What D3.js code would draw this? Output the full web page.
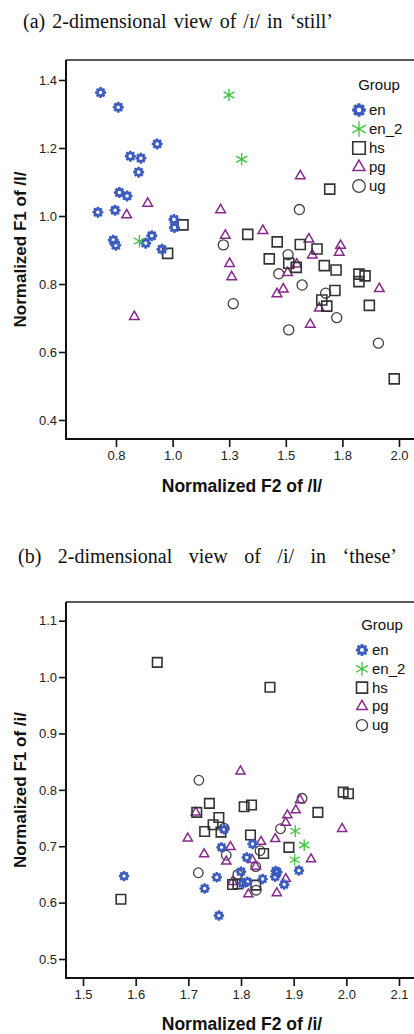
<!DOCTYPE html>
<html>
<head>
<meta charset="utf-8">
<script src="https://cdn.jsdelivr.net/npm/d3@7/dist/d3.min.js"></script>
<style>
body { margin: 0; background: #fff; }
svg { display: block; }
</style>
</head>
<body>
<div id="chart"></div>
<script>
// groups shown in both legends
var groups = ["en", "en_2", "hs", "pg", "ug"];

// (a) /ɪ/ in 'still' : [normalized F2, normalized F1]
var stillEn = [[0.682,1.363],[0.760,1.320],[0.932,1.212],[0.813,1.176],[0.860,1.170],[0.850,1.129],[0.765,1.069],[0.799,1.059],[0.670,1.011],[0.746,1.017],[1.006,0.990],[1.008,0.966],[0.738,0.929],[0.749,0.914],[0.908,0.942],[0.881,0.920],[0.953,0.902]];
var stillEn2 = [[0.853,0.926],[1.249,1.356],[1.305,1.167]];
var stillHs = [[1.046,0.974],[0.978,0.890],[1.694,1.079],[1.332,0.946],[1.462,0.924],[1.564,0.916],[1.638,0.903],[1.427,0.874],[1.513,0.861],[1.546,0.849],[1.670,0.854],[1.722,0.841],[1.823,0.829],[1.850,0.824],[1.823,0.807],[1.717,0.781],[1.659,0.753],[1.681,0.735],[1.869,0.737],[1.979,0.521]];
var stillPg = [[0.890,1.037],[0.797,1.003],[0.831,0.704],[1.564,1.118],[1.212,1.018],[1.233,0.943],[1.399,0.957],[1.602,0.932],[1.742,0.913],[1.736,0.893],[1.617,0.885],[1.548,0.858],[1.252,0.860],[1.261,0.821],[1.508,0.833],[1.489,0.785],[1.461,0.771],[1.913,0.786],[1.648,0.729],[1.608,0.681]];
var stillUg = [[1.560,1.019],[1.224,0.915],[1.510,0.886],[1.469,0.830],[1.572,0.797],[1.676,0.773],[1.268,0.742],[1.725,0.701],[1.513,0.665],[1.909,0.626]];

// (b) /i/ in 'these'
var theseEn = [[1.578,0.647],[1.731,0.625],[1.768,0.730],[1.822,0.704],[1.763,0.698],[1.811,0.680],[1.910,0.657],[1.800,0.655],[1.866,0.656],[1.869,0.654],[1.754,0.645],[1.841,0.642],[1.865,0.646],[1.812,0.637],[1.803,0.634],[1.882,0.632],[1.758,0.577]];
var theseEn2 = [[1.903,0.727],[1.920,0.702],[1.902,0.676]];
var theseHs = [[1.641,1.026],[1.855,0.982],[1.572,0.606],[1.994,0.796],[2.004,0.793],[1.946,0.760],[1.740,0.776],[1.806,0.770],[1.820,0.773],[1.758,0.751],[1.716,0.760],[1.747,0.738],[1.731,0.726],[1.762,0.725],[1.818,0.720],[1.891,0.698],[1.843,0.687],[1.784,0.632],[1.794,0.633],[1.828,0.631]];
var thesePg = [[1.799,0.833],[1.714,0.760],[1.699,0.714],[1.730,0.686],[1.912,0.782],[1.904,0.764],[1.888,0.755],[1.885,0.742],[1.992,0.731],[1.865,0.713],[1.838,0.708],[1.780,0.699],[1.821,0.676],[1.772,0.673],[1.933,0.677],[1.828,0.664],[1.885,0.642],[1.784,0.637],[1.814,0.615],[1.868,0.617]];
var theseUg = [[1.720,0.817],[1.916,0.785],[1.875,0.731],[1.768,0.732],[1.836,0.692],[1.772,0.684],[1.828,0.664],[1.794,0.650],[1.719,0.653],[1.829,0.622]];

// ticks
var xTicksA = [0.75, 1.0, 1.25, 1.5, 1.75, 2.0];
var xTickLabelsA = ["0.8", "1.0", "1.3", "1.5", "1.8", "2.0"];
var yTicksA = [0.4, 0.6, 0.8, 1.0, 1.2, 1.4];
var xTicksB = [1.5, 1.6, 1.7, 1.8, 1.9, 2.0, 2.1];
var yTicksB = [0.5, 0.6, 0.7, 0.8, 0.9, 1.0, 1.1];

var width = 414, height = 1034;
var svg = d3.select("#chart").append("svg")
	.attr("width", width)
	.attr("height", height);

var colors = {en: "#3b5bbf", en_2: "#3cc43c", hs: "#333333", pg: "#86298a", ug: "#404040"};

// en marker: blue gear with hole
function gearPath(r) {
	var rIn = r * 0.72, p = [];
	for (var k = 0; k < 8; k++) {
		var t = k * Math.PI / 4;
		p.push([rIn * Math.cos(t - Math.PI / 8), rIn * Math.sin(t - Math.PI / 8)]);
		p.push([r * Math.cos(t - 0.2), r * Math.sin(t - 0.2)]);
		p.push([r * Math.cos(t + 0.2), r * Math.sin(t + 0.2)]);
	}
	var h = r * 0.32;
	return "M" + p.join("L") + "Z" +
		"M" + h + ",0A" + h + "," + h + " 0 1,0 " + (-h) + ",0A" + h + "," + h + " 0 1,0 " + h + ",0Z";
}

function drawMark(sel, g, s) {
	// s = scale factor
	if (g == "en") {
		sel.append("path").attr("d", gearPath(5.6 * s))
			.attr("fill", colors.en).attr("fill-rule", "evenodd");
	} else if (g == "en_2") {
		sel.append("path").attr("d", d3.symbol(d3.symbolAsterisk, 110 * s * s))
			.attr("fill", "none").attr("stroke", colors.en_2).attr("stroke-width", 1.3);
	} else if (g == "hs") {
		sel.append("path").attr("d", d3.symbol(d3.symbolSquare, 100 * s * s))
			.attr("fill", "none").attr("stroke", colors.hs).attr("stroke-width", 1.6);
	} else if (g == "pg") {
		sel.append("path").attr("d", d3.symbol(d3.symbolTriangle, 40 * s * s))
			.attr("fill", "none").attr("stroke", colors.pg).attr("stroke-width", 1.5);
	} else {
		sel.append("path").attr("d", d3.symbol(d3.symbolCircle, 80 * s * s))
			.attr("fill", "none").attr("stroke", colors.ug).attr("stroke-width", 1.3);
	}
}

function spreadTitle(t, x0, x1) {
	var w = t.node().getComputedTextLength();
	var n = t.text().split(" ").length - 1;
	t.attr("x", x0).style("word-spacing", ((x1 - x0 - w) / n) + "px");
}

function drawPlot(cfg) {
	var x = d3.scaleLinear().domain(cfg.xDom).range(cfg.xRange);
	var y = d3.scaleLinear().domain(cfg.yDom).range(cfg.yRange);
	var g = svg.append("g");

	var title = svg.append("text")
		.attr("y", cfg.titleY)
		.style("font-family", "'Liberation Serif','DejaVu Serif',serif")
		.style("font-size", "20px")
		.attr("fill", "#111")
		.text(cfg.title);
	spreadTitle(title, cfg.titleX[0], cfg.titleX[1]);

	// clip for marks
	var clipId = "clip" + cfg.id;
	svg.append("clipPath").attr("id", clipId).append("rect")
		.attr("x", cfg.left).attr("y", cfg.top)
		.attr("width", width - cfg.left).attr("height", cfg.bottom - cfg.top);

	var series = [cfg.en, cfg.en2, cfg.hs, cfg.pg, cfg.ug];
	var marks = g.append("g").attr("clip-path", "url(#" + clipId + ")");
	// draw order: later groups on top
	[4, 3, 2, 0, 1].forEach(function(i) {
		marks.selectAll(".m" + i)
			.data(series[i])
			.enter().append("g")
			.attr("transform", function(d) { return "translate(" + x(d[0]) + "," + y(d[1]) + ")"; })
			.each(function() { drawMark(d3.select(this), groups[i], cfg.markScale); });
	});

	// frame
	g.append("line").attr("x1", cfg.left).attr("x2", width).attr("y1", cfg.top).attr("y2", cfg.top)
		.attr("stroke", "#222").attr("stroke-width", 1.5);

	var yAxis = d3.axisLeft(y).tickValues(cfg.yTicks).tickSize(7).tickFormat(d3.format(".1f"));
	var ya = g.append("g").attr("transform", "translate(" + cfg.left + ",0)").call(yAxis);
	var xAxis = d3.axisBottom(x).tickValues(cfg.xTicks).tickSize(8)
		.tickFormat(function(d, i) { return cfg.xLabels ? cfg.xLabels[i] : d3.format(".1f")(d); });
	var xa = g.append("g").attr("transform", "translate(0," + cfg.bottom + ")").call(xAxis);

	[ya, xa].forEach(function(a) {
		a.select(".domain").remove();
		a.selectAll(".tick line").attr("stroke", "#111").attr("stroke-width", 1.6);
		a.selectAll(".tick text")
			.style("font-family", "'Liberation Sans',Arial,sans-serif")
			.style("font-size", "13px")
			.attr("fill", "#222");
	});
	ya.selectAll(".tick text").attr("x", -9);
	xa.selectAll(".tick text").attr("y", 12);

	g.append("line").attr("x1", cfg.left).attr("x2", cfg.left).attr("y1", cfg.top).attr("y2", cfg.bottom + 1)
		.attr("stroke", "#111").attr("stroke-width", 2);
	g.append("line").attr("x1", cfg.left - 1).attr("x2", width).attr("y1", cfg.bottom).attr("y2", cfg.bottom)
		.attr("stroke", "#111").attr("stroke-width", 2);

	// axis titles
	g.append("text")
		.attr("x", (cfg.left + width) / 2 + 2).attr("y", cfg.xTitleY)
		.attr("text-anchor", "middle")
		.style("font-family", "'Liberation Sans',Arial,sans-serif")
		.style("font-size", "17.5px").style("font-weight", "bold")
		.attr("fill", "#111")
		.text(cfg.xTitle);
	g.append("text")
		.attr("transform", "translate(26," + ((cfg.top + cfg.bottom) / 2) + ") rotate(-90)")
		.attr("text-anchor", "middle")
		.style("font-family", "'Liberation Sans',Arial,sans-serif")
		.style("font-size", "17px").style("font-weight", "bold")
		.attr("fill", "#111")
		.text(cfg.yTitle);

	// legend
	var lg = g.append("g");
	lg.append("text")
		.attr("x", cfg.legX + 20).attr("y", cfg.legY)
		.attr("text-anchor", "middle")
		.style("font-family", "'Liberation Sans',Arial,sans-serif")
		.style("font-size", "15px")
		.attr("fill", "#111")
		.text("Group");
	groups.forEach(function(name, i) {
		var row = lg.append("g").attr("transform", "translate(" + cfg.legX + "," + (cfg.legY + 20 + i * cfg.legStep) + ")");
		drawMark(row.append("g"), name, cfg.legScale);
		row.append("text").attr("x", 10).attr("y", 5)
			.style("font-family", "'Liberation Sans',Arial,sans-serif")
			.style("font-size", "15px")
			.attr("fill", "#111")
			.text(name);
	});
}

drawPlot({
	id: "a",
	title: "(a) 2-dimensional view of /\u026a/ in \u2018still\u2019",
	titleX: [23, 333], titleY: 28,
	left: 66, top: 60, bottom: 439,
	xDom: [0.75, 2.0], xRange: [116, 399],
	yDom: [0.4, 1.4], yRange: [420, 80],
	xTicks: xTicksA, xLabels: xTickLabelsA, yTicks: yTicksA,
	en: stillEn, en2: stillEn2, hs: stillHs, pg: stillPg, ug: stillUg,
	xTitle: "Normalized F2 of /I/", yTitle: "Normalized F1 of /I/", xTitleY: 492,
	markScale: 1, legX: 359, legY: 90, legStep: 19, legScale: 1.25
});

drawPlot({
	id: "b",
	title: "(b) 2-dimensional view of /i/ in \u2018these\u2019",
	titleX: [18, 397], titleY: 563,
	left: 66, top: 602, bottom: 978,
	xDom: [1.5, 2.1], xRange: [83, 399],
	yDom: [0.5, 1.1], yRange: [959, 620.7],
	xTicks: xTicksB, xLabels: null, yTicks: yTicksB,
	en: theseEn, en2: theseEn2, hs: theseHs, pg: thesePg, ug: theseUg,
	xTitle: "Normalized F2 of /i/", yTitle: "Normalized F1 of /i/", xTitleY: 1030,
	markScale: 0.95, legX: 362, legY: 630, legStep: 18.8, legScale: 1.1
});
</script>
</body>
</html>
